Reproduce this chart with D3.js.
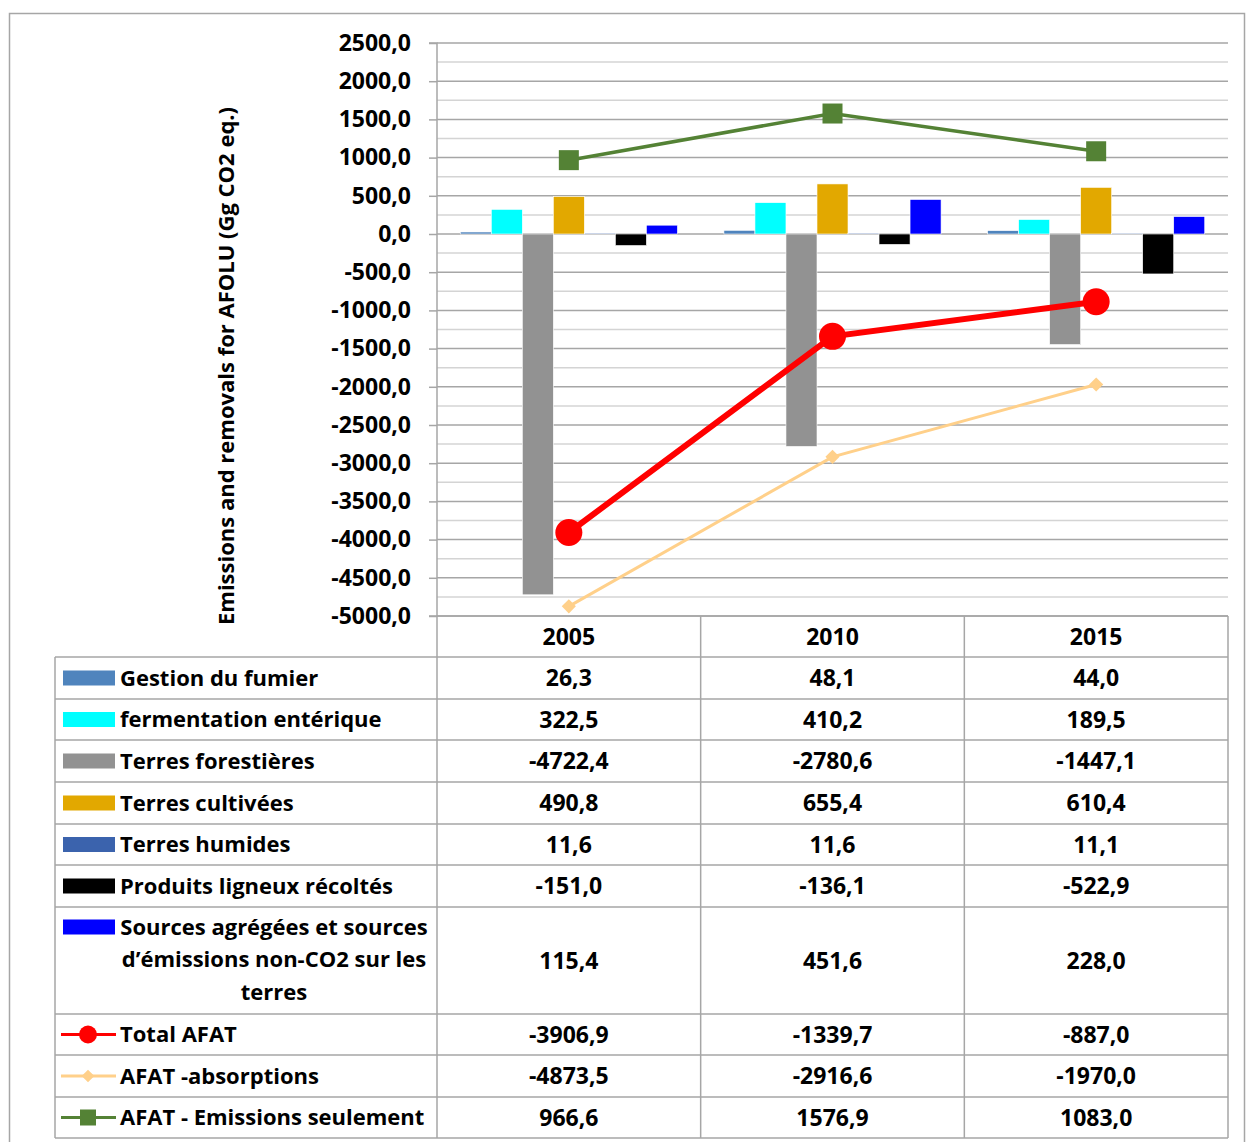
<!DOCTYPE html>
<html><head><meta charset="utf-8">
<script src="https://cdn.jsdelivr.net/npm/d3@7"></script>
<style>
html,body{margin:0;padding:0;background:#fff;}
text{font-family:"Open Sans","Noto Sans",sans-serif;font-weight:bold;fill:#000;}
</style></head>
<body>
<svg id="chart" width="1247" height="1142"></svg>
<script>
const years = ["2005","2010","2015"];
const barSeries = ["Gestion du fumier","fermentation entérique","Terres forestières","Terres cultivées","Terres humides","Produits ligneux récoltés","Sources agrégées et sources d’émissions non-CO2 sur les terres"];
const barColors = ["#4F84BD","#00FFFF","#929292","#E2A800","#3B63AD","#000000","#0000FF"];
const gestion = [26.3, 48.1, 44.0];
const fermentation = [322.5, 410.2, 189.5];
const forestieres = [-4722.4, -2780.6, -1447.1];
const cultivees = [490.8, 655.4, 610.4];
const humides = [11.6, 11.6, 11.1];
const ligneux = [-151.0, -136.1, -522.9];
const sources = [115.4, 451.6, 228.0];
const barValues = [gestion, fermentation, forestieres, cultivees, humides, ligneux, sources];
const lineSeries = ["Total AFAT","AFAT -absorptions","AFAT - Emissions seulement"];
const lineColors = ["#FF0000","#FFD08A","#548235"];
const totalAfat = [-3906.9, -1339.7, -887.0];
const absorptions = [-4873.5, -2916.6, -1970.0];
const emissions = [966.6, 1576.9, 1083.0];
const lineValues = [totalAfat, absorptions, emissions];
const yTicks = [2500,2000,1500,1000,500,0,-500,-1000,-1500,-2000,-2500,-3000,-3500,-4000,-4500,-5000];

const svg = d3.select("#chart");
const L = 437, R = 1228, T = 43, B = 616;
const fmt = v => d3.format(".1f")(v).replace(".", ",").replace("−","-");
const numSize = "23px", labSize = "22px";

// outer frame
svg.append("rect").attr("x",9.5).attr("y",13.5).attr("width",1235).attr("height",1140)
  .attr("fill","none").attr("stroke","#A6A6A6").attr("stroke-width",1.5);

const y = d3.scaleLinear().domain([-5000,2500]).range([B,T]);
const x = d3.scaleBand().domain(years).range([L,R]);
const bw = x.bandwidth();
const inner = d3.scaleBand().domain(d3.range(barSeries.length)).range([bw*0.75/8.5, bw - bw*0.75/8.5]);

// gridlines
const minor = d3.range(-5000, 2501, 250).filter(v => v % 500 !== 0);
svg.append("g").selectAll("line").data(minor).join("line")
  .attr("x1",L).attr("x2",R).attr("y1",d=>y(d)).attr("y2",d=>y(d))
  .attr("stroke","#D4D4D4").attr("stroke-width",1.5);
svg.append("g").selectAll("line").data(yTicks).join("line")
  .attr("x1",L).attr("x2",R).attr("y1",d=>y(d)).attr("y2",d=>y(d))
  .attr("stroke","#A6A6A6").attr("stroke-width",1.5);

// y axis
const yAxis = d3.axisLeft(y).tickValues(yTicks).tickSize(8).tickPadding(18).tickFormat(fmt);
const ga = svg.append("g").attr("transform",`translate(${L},0)`).call(yAxis);
ga.select(".domain").attr("stroke","#A6A6A6").attr("stroke-width",1.5).attr("d",`M-8,${y(-5000)}H0V${y(2500)}H-8`);
ga.selectAll(".tick line").attr("stroke","#A6A6A6").attr("stroke-width",1.5);
ga.selectAll(".tick text").style("font-size",numSize).style("font-family",'"Open Sans",sans-serif').style("font-weight","bold").attr("fill","#000");

svg.append("text").attr("transform",`translate(234,${366}) rotate(-90)`)
  .attr("text-anchor","middle").style("font-size","22px").text("Emissions and removals for AFOLU (Gg CO2 eq.)");

// bars
barValues.forEach((vals, si) => {
  svg.append("g").selectAll("rect").data(vals).join("rect")
    .attr("x",(d,i)=>x(years[i]) + inner(si))
    .attr("width",inner.bandwidth())
    .attr("y",d=>y(Math.max(0,d)))
    .attr("height",d=>Math.abs(y(d)-y(0)))
    .attr("fill",barColors[si])
    .attr("stroke","#fff").attr("stroke-width",0.6);
});

// lines
const cx = i => x(years[i]) + bw/2;
const lineWidths = [6, 3, 3.5];
lineValues.forEach((vals, li) => {
  const line = d3.line().x((d,i)=>cx(i)).y(d=>y(d));
  svg.append("path").datum(vals).attr("d",line).attr("fill","none")
    .attr("stroke",lineColors[li]).attr("stroke-width",lineWidths[li]);
});
// markers
svg.append("g").selectAll("circle").data(totalAfat).join("circle")
  .attr("cx",(d,i)=>cx(i)).attr("cy",d=>y(d)).attr("r",13.5).attr("fill",lineColors[0]);
svg.append("g").selectAll("path").data(absorptions).join("path")
  .attr("d",d3.symbol(d3.symbolSquare, 100)).attr("transform",(d,i)=>`translate(${cx(i)},${y(d)}) rotate(45)`)
  .attr("fill",lineColors[1]);
svg.append("g").selectAll("rect").data(emissions).join("rect")
  .attr("x",(d,i)=>cx(i)-10).attr("y",d=>y(d)-10).attr("width",20).attr("height",20).attr("fill",lineColors[2]);

// data table
const rowEdges = [616,657,699,740,782,824,865,907,1014,1055,1097,1138];
const LL = 55;
const tg = svg.append("g");
const gridCol = "#A6A6A6";
rowEdges.forEach((ry,i) => {
  tg.append("line").attr("x1", i===0 ? L : LL).attr("x2",R).attr("y1",ry).attr("y2",ry)
    .attr("stroke",gridCol).attr("stroke-width",1.5);
});
[L, x("2010"), x("2015"), R].forEach(vx => {
  tg.append("line").attr("x1",vx).attr("x2",vx).attr("y1",616).attr("y2",1138).attr("stroke",gridCol).attr("stroke-width",1.5);
});
tg.append("line").attr("x1",LL).attr("x2",LL).attr("y1",657).attr("y2",1138).attr("stroke",gridCol).attr("stroke-width",1.5);

years.forEach(yr => {
  tg.append("text").attr("x",x(yr)+bw/2).attr("y",(616+657)/2).attr("dy","0.36em")
    .attr("text-anchor","middle").style("font-size",numSize).text(yr);
});
const allSeries = barSeries.concat(lineSeries);
const allValues = barValues.concat(lineValues);
allSeries.forEach((name, r) => {
  const top = rowEdges[r+1], bot = rowEdges[r+2];
  const mid = (top+bot)/2;
  allValues[r].forEach((v,i) => {
    tg.append("text").attr("x",x(years[i])+bw/2).attr("y",mid).attr("dy","0.36em")
      .attr("text-anchor","middle").style("font-size",numSize).text(fmt(v));
  });
  if (r < barSeries.length) {
    const ky = r === 6 ? top + 20 : mid;
    tg.append("rect").attr("x",63).attr("y",ky-7.5).attr("width",52).attr("height",15).attr("fill",barColors[r]);
  } else {
    const li = r - barSeries.length;
    tg.append("line").attr("x1",61).attr("x2",116).attr("y1",mid).attr("y2",mid)
      .attr("stroke",lineColors[li]).attr("stroke-width",3);
    if (li === 0) tg.append("circle").attr("cx",88).attr("cy",mid).attr("r",9).attr("fill",lineColors[0]);
    if (li === 1) tg.append("path").attr("d",d3.symbol(d3.symbolSquare, 80)).attr("transform",`translate(88,${mid}) rotate(45)`).attr("fill",lineColors[1]);
    if (li === 2) tg.append("rect").attr("x",80).attr("y",mid-8).attr("width",16).attr("height",16).attr("fill",lineColors[2]);
  }
  if (r === 6) {
    const lines = ["Sources agrégées et sources","d’émissions non-CO2 sur les","terres"];
    lines.forEach((t,k) => {
      tg.append("text").attr("x",274).attr("y",top+20+k*32.5).attr("dy","0.36em")
        .attr("text-anchor","middle").style("font-size",labSize).text(t);
    });
  } else {
    tg.append("text").attr("x",120).attr("y",mid).attr("dy","0.36em")
      .style("font-size",labSize).text(name);
  }
});
</script>
</body></html>
